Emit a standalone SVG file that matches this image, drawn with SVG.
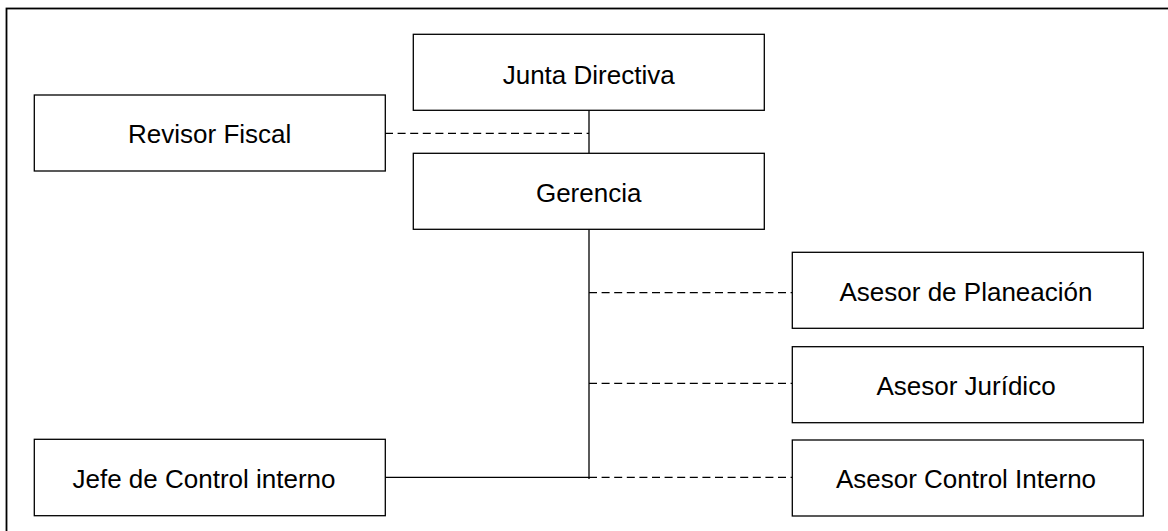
<svg xmlns="http://www.w3.org/2000/svg" width="1168" height="531" viewBox="0 0 1168 531">
<style>
.box{fill:#fff;stroke:#000;stroke-width:1.3}
.lbl{font-family:"Liberation Sans",Arial,sans-serif;font-size:26px;fill:#000;text-anchor:middle}
.solid{stroke:#000;stroke-width:1.3;fill:none}
.dash{stroke:#000;stroke-width:1.3;fill:none;stroke-dasharray:8 4.6}
</style>
<rect x="0" y="0" width="1168" height="531" fill="#fff"/>
<rect x="6.5" y="8.5" width="1175" height="535" fill="none" stroke="#000" stroke-width="1.8"/>
<g id="connectors">
<line class="solid" x1="589" y1="110" x2="589" y2="153"/>
<line class="dash" x1="385" y1="133.3" x2="589" y2="133.3"/>
<line class="solid" x1="589" y1="229" x2="589" y2="479"/>
<line class="dash" x1="589" y1="292.7" x2="792" y2="292.7"/>
<line class="dash" x1="589" y1="383.3" x2="792" y2="383.3"/>
<line class="dash" x1="589" y1="477.3" x2="792" y2="477.3"/>
<line class="solid" x1="385" y1="477.3" x2="589" y2="477.3" stroke-width="1.8"/>
</g>
<g id="junta"><rect class="box" x="413.3" y="34.3" width="351" height="76"/><text class="lbl" x="588.7" y="83.5">Junta Directiva</text></g>
<g id="revisor"><rect class="box" x="34.3" y="95" width="351" height="76"/><text class="lbl" x="209.7" y="143.3">Revisor Fiscal</text></g>
<g id="gerencia"><rect class="box" x="413.3" y="153.3" width="351" height="76"/><text class="lbl" x="588.7" y="201.5">Gerencia</text></g>
<g id="planeacion"><rect class="box" x="792.3" y="252.3" width="351" height="76"/><text class="lbl" x="966" y="300.5">Asesor de Planeación</text></g>
<g id="juridico"><rect class="box" x="792.3" y="346.7" width="351" height="76"/><text class="lbl" x="966" y="395">Asesor Jurídico</text></g>
<g id="controlinterno"><rect class="box" x="792.3" y="440" width="351" height="76"/><text class="lbl" x="966" y="488.3">Asesor Control Interno</text></g>
<g id="jefe"><rect class="box" x="34.3" y="439.3" width="351" height="76.4"/><text class="lbl" x="204" y="488.3">Jefe de Control interno</text></g>
</svg>
